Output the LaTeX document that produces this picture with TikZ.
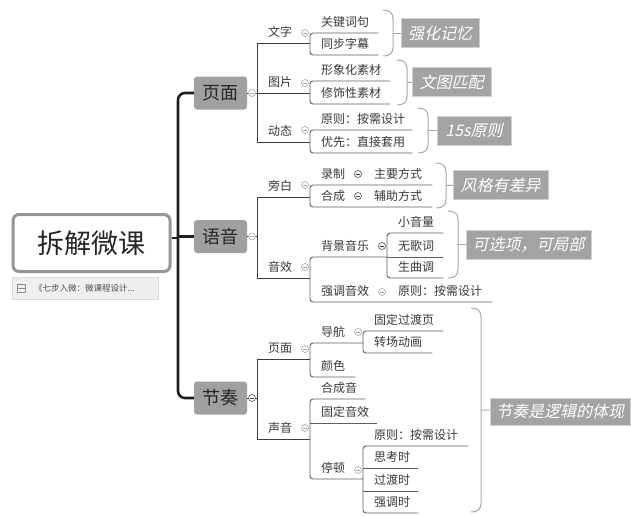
\documentclass[tikz,border=0pt]{standalone}
\usepackage{fontspec}
\newfontfamily\cjk{Noto Sans CJK SC}
\newfontfamily\cjkit{Noto Sans CJK SC}[FakeSlant=0.22]
\usetikzlibrary{calc}
\definecolor{boxgray}{HTML}{A0A0A0}
\definecolor{sumgray}{HTML}{A3A3A3}
\definecolor{sumline}{HTML}{CFCFCF}
\definecolor{rootline}{HTML}{959595}
\definecolor{notefill}{HTML}{EFEFEF}
\definecolor{noteline}{HTML}{DADADA}
\definecolor{trunk}{HTML}{1E1E1E}
\definecolor{linedark}{HTML}{3C3C3C}
\definecolor{linegray}{HTML}{5E5E5E}
\definecolor{bracegray}{HTML}{A8A8A8}
\definecolor{foldgray}{HTML}{A5A5A5}
\definecolor{txt}{HTML}{383838}

\begin{document}
\begin{tikzpicture}[x=1pt, y=-1pt,
  root/.style={draw=rootline, line width=3pt, rounded corners=6pt, fill=white,
               minimum width=157pt, minimum height=57pt,
               font=\cjk\fontsize{27}{27}\selectfont, text=black!85},
  main/.style={fill=boxgray, rounded corners=3pt, minimum width=53pt,
               minimum height=33pt, inner sep=0pt,
               font=\cjk\fontsize{18}{18}\selectfont, text=black!85},
  tp/.style={anchor=south west, text width=#1, align=left, inner xsep=0pt,
             inner ysep=3pt, text height=10pt, text depth=3pt,
             font=\cjk\fontsize{12}{14}\selectfont, text=txt,
             execute at begin node={\hspace*{11pt}}},
  fold/.style={circle, draw=#1, fill=white, line width=0.6pt, inner sep=0pt,
               minimum size=7pt,
               path picture={\draw[#1, line width=0.6pt]
                 ([xshift=-2pt]path picture bounding box.center) --
                 ([xshift=2pt]path picture bounding box.center);}},
  fold/.default=foldgray,
  summ/.style={fill=sumgray, draw=sumline, line width=0.5pt, inner sep=0pt,
               minimum height=29pt, minimum width=#1,
               font=\cjkit\fontsize{16}{16}\selectfont, text=white},
  lv1/.style={draw=trunk, line width=2.6pt, rounded corners=7pt},
  lv2/.style={draw=linedark, line width=1pt},
  lv3/.style={draw=linegray, line width=0.9pt, rounded corners=3pt},
  brc/.style={draw=bracegray, line width=1pt}]
\useasboundingbox (0,0) rectangle (631,515);

% root and note
\node[root] (root) at (91.5,243) {拆解微课};
\node[draw=noteline, fill=notefill, minimum width=146pt, minimum height=22pt,
      inner sep=0pt] (note) at (85,288) {};
\node[draw=black!45, line width=0.5pt, minimum width=8pt, minimum height=8pt,
      inner sep=0pt, path picture={\draw[black!45, line width=0.5pt]
      (path picture bounding box.west) -- (path picture bounding box.east);}]
      (icon) at (21.5,288) {};
\node[anchor=west, inner sep=0pt, font=\cjk\fontsize{8.5}{9}\selectfont,
      text=black!70] (notetx) at (34,288) {《七步入微：微课程设计...};

% main topics
\node[main] (ym) at (220.5,93) {页面};
\node[main] (yy) at (220.5,236.5) {语音};
\node[main] (jz) at (220.5,398) {节奏};
\coordinate (tk) at (178,398);

% 页面
\node[tp=53] (wz) at (257,43) {文字};
\node[tp=53] (tup) at (257,93) {图片};
\node[tp=53] (dt) at (257,142) {动态};
\node[tp=68] (gj) at (310,33) {关键词句};
\node[tp=68] (tb) at (310,55) {同步字幕};
\node[tp=80] (xx) at (310,81) {形象化素材};
\node[tp=80] (xs) at (310,104) {修饰性素材};
\node[tp=102] (yz) at (310,130) {原则：按需设计};
\node[tp=102] (yx) at (310,153) {优先：直接套用};

% 语音
\node[tp=53] (pb) at (257,197) {旁白};
\node[tp=53] (yxg) at (257,278) {音效};
\node[tp=43] (lz) at (310,185) {录制};
\node[tp=69] (zy) at (363,185) {主要方式};
\node[tp=43] (hc) at (310,207) {合成};
\node[tp=69] (fz) at (363,207) {辅助方式};
\node[tp=77] (bj) at (310,257) {背景音乐};
\node[tp=56] (xyl) at (387,233) {小音量};
\node[tp=56] (wgc) at (387,257) {无歌词};
\node[tp=56] (sqd) at (387,278) {生曲调};
\node[tp=77] (qd) at (310,302) {强调音效};
\node[tp=105] (yz2) at (387,302) {原则：按需设计};

% 节奏
\node[tp=53] (ym2) at (257,359) {页面};
\node[tp=53] (sy) at (257,439) {声音};
\node[tp=53] (dh) at (310,343) {导航};
\node[tp=80] (gdy) at (363,331) {固定过渡页};
\node[tp=69] (zc) at (363,353) {转场动画};
\node[tp=45] (ys) at (310,377) {颜色};
\node[tp=55] (hcy) at (310,399) {合成音};
\node[tp=67] (gdx) at (310,423) {固定音效};
\node[tp=53] (td) at (310,479) {停顿};
\node[tp=105] (yz3) at (363,446) {原则：按需设计};
\node[tp=55] (skt) at (363,468) {思考时};
\node[tp=55] (gds) at (363,491) {过渡时};
\node[tp=55] (qds) at (363,513) {强调时};

% trunk
\draw[lv1] (ym.west) -| (tk) -- (jz.west);
\draw[lv1] (yy.west) -- (yy.west -| tk);
\draw[lv1, line width=1.4pt] ([yshift=5pt]root.east) -- ([yshift=5pt]root.east -| tk);

% second level
\draw[lv2] (ym.east) -- (ym.east -| wz.south west);
\draw[lv2] (wz.south east) -- (wz.south west) -- (dt.south west) -- (dt.south east);
\draw[lv2] (tup.south west) -- (tup.south east);
\draw[lv2] (yy.east) -- (yy.east -| pb.south west);
\draw[lv2] (pb.south east) -- (pb.south west) -- (yxg.south west) -- (yxg.south east);
\draw[lv2] (jz.east) -- (jz.east -| ym2.south west);
\draw[lv2] (ym2.south east) -- (ym2.south west) -- (sy.south west) -- (sy.south east);

% third level
\draw[lv3] (gj.south east) -- (gj.south west) -- (tb.south west) -- (tb.south east);
\draw[lv3] (xx.south east) -- (xx.south west) -- (xs.south west) -- (xs.south east);
\draw[lv3] (yz.south east) -- (yz.south west) -- (yx.south west) -- (yx.south east);
\draw[lv3] (zy.south east) -- (lz.south west) -- (hc.south west) -- (fz.south east);
\draw[lv3] (bj.south east) -- (bj.south west) -- (qd.south west) -- (yz2.south east);
\draw[lv3] (xyl.south east) -- (xyl.south west) -- (sqd.south west) -- (sqd.south east);
\draw[lv3] (wgc.south west) -- (wgc.south east);
\draw[lv3] (dh.south east) -- (dh.south west) -- (ys.south west) -- (ys.south east);
\draw[lv3] (gdy.south east) -- (gdy.south west) -- (zc.south west) -- (zc.south east);
\draw[lv3] (hcy.south east) -- (hcy.south west) -- (td.south west) -- (td.south east);
\draw[lv3] (gdx.south west) -- (gdx.south east);
\draw[lv3] (yz3.south east) -- (yz3.south west) -- (qds.south west) -- (qds.south east);
\draw[lv3] (skt.south west) -- (skt.south east);
\draw[lv3] (gds.south west) -- (gds.south east);

% fold marks
\node[fold] (f1) at (252,93) {};
\node[fold] (f2) at (252,236.5) {};
\node[fold=black!70] (f3) at (252,398) {};
\node[fold] (f4) at (305,33) {};
\node[fold] (f5) at (305,83) {};
\node[fold] (f6) at (305,130) {};
\node[fold] (f7) at (305,185) {};
\node[fold] (f8) at (305,267) {};
\node[fold=black!70] (f9) at (358,174) {};
\node[fold=black!70] (f10) at (358,196) {};
\node[fold=black!70] (f11) at (382,246) {};
\node[fold] (f12) at (382,292) {};
\node[fold] (f13) at (305,349) {};
\node[fold] (f14) at (305,428) {};
\node[fold] (f15) at (358,332) {};
\node[fold] (f16) at (358,470) {};

% summaries
\draw[brc] (383,10) .. controls (390,10) and (393,13) .. (393,19) -- (393,47)
  .. controls (393,53) and (390,56) .. (383,56);
\draw[brc] (397,60) .. controls (404,60) and (407,63) .. (407,69) -- (407,96)
  .. controls (407,102) and (404,105) .. (397,105);
\draw[brc] (418,108) .. controls (425,108) and (428,111) .. (428,117) -- (428,144)
  .. controls (428,150) and (425,153) .. (418,153);
\draw[brc] (436,163) .. controls (443,163) and (446,166) .. (446,172) -- (446,199)
  .. controls (446,205) and (443,208) .. (436,208);
\draw[brc] (448,211) .. controls (455,211) and (458,214) .. (458,220) -- (458,269)
  .. controls (458,275) and (455,278) .. (448,278);
\draw[brc] (471,308) .. controls (478,308) and (481,311) .. (481,317) -- (481,503)
  .. controls (481,509) and (478,512) .. (471,512);
\coordinate (b1) at (393,33);
\coordinate (b2) at (407,82.5);
\coordinate (b3) at (428,130.5);
\coordinate (b4) at (446,185.5);
\coordinate (b5) at (458,244.5);
\coordinate (b6) at (481,410);
\node[summ=78pt] (s1) at (440,33) {强化记忆};
\node[summ=79pt] (s2) at (451.5,82) {文图匹配};
\node[summ=74pt] (s3) at (474,130.5) {15s原则};
\node[summ=95pt] (s4) at (500.5,185) {风格有差异};
\node[summ=125pt] (s5) at (528.5,244.5) {可选项，可局部};
\node[summ=140pt, minimum height=27pt] (s6) at (560,411.5) {节奏是逻辑的体现};
\draw[brc] (b1) -- (s1);
\draw[brc] (b2) -- (s2);
\draw[brc] (b3) -- (s3);
\draw[brc] (b4) -- (s4);
\draw[brc] (b5) -- (s5);
\draw[brc] (b6) -- (s6);
\end{tikzpicture}
\end{document}
